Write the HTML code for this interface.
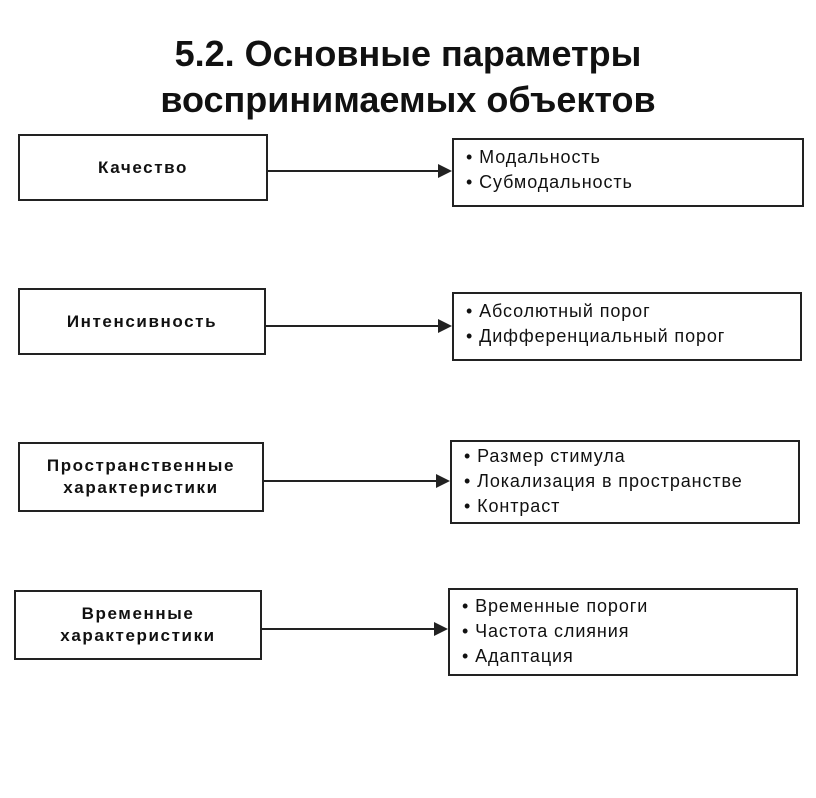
<!DOCTYPE html>
<html><head><meta charset="utf-8"><style>
body{margin:0;width:816px;height:798px;background:#fff;position:relative;overflow:hidden;font-family:"Liberation Sans",sans-serif;color:#111}
.t{position:absolute;left:0;width:816px;text-align:center;font-weight:bold;font-size:36px;line-height:44px;letter-spacing:0px}
.b{position:absolute;border:2px solid #222;box-sizing:border-box}
.l{display:flex;align-items:center;justify-content:center;text-align:center;font-weight:bold;font-size:17px;line-height:22px;letter-spacing:1.6px}
.r{font-size:18px;line-height:24.5px;padding:5px 0 0 12px;letter-spacing:0.9px;white-space:nowrap}
.a{position:absolute;height:2px;background:#222}
.a:after{content:"";position:absolute;right:-2px;top:-6px;border-left:14px solid #222;border-top:7px solid transparent;border-bottom:7px solid transparent}
</style></head><body>
<div class="t" style="top:32px">5.2. Основные параметры</div>
<div class="t" style="top:78px">воспринимаемых объектов</div>

<div class="b l" style="left:18px;top:134px;width:250px;height:67px">Качество</div>
<div class="a" style="left:268px;top:170px;width:182px"></div>
<div class="b r" style="left:452px;top:138px;width:352px;height:69px">• Модальность<br>• Субмодальность</div>

<div class="b l" style="left:18px;top:288px;width:248px;height:67px">Интенсивность</div>
<div class="a" style="left:266px;top:325px;width:184px"></div>
<div class="b r" style="left:452px;top:292px;width:350px;height:69px">• Абсолютный порог<br>• Дифференциальный порог</div>

<div class="b l" style="left:18px;top:442px;width:246px;height:70px">Пространственные<br>характеристики</div>
<div class="a" style="left:264px;top:480px;width:184px"></div>
<div class="b r" style="left:450px;top:440px;width:350px;height:84px;padding-top:2px;line-height:25px">• Размер стимула<br>• Локализация в пространстве<br>• Контраст</div>

<div class="b l" style="left:14px;top:590px;width:248px;height:70px">Временные<br>характеристики</div>
<div class="a" style="left:262px;top:628px;width:184px"></div>
<div class="b r" style="left:448px;top:588px;width:350px;height:88px;padding-top:4px;line-height:25px">• Временные пороги<br>• Частота слияния<br>• Адаптация</div>
</body></html>
